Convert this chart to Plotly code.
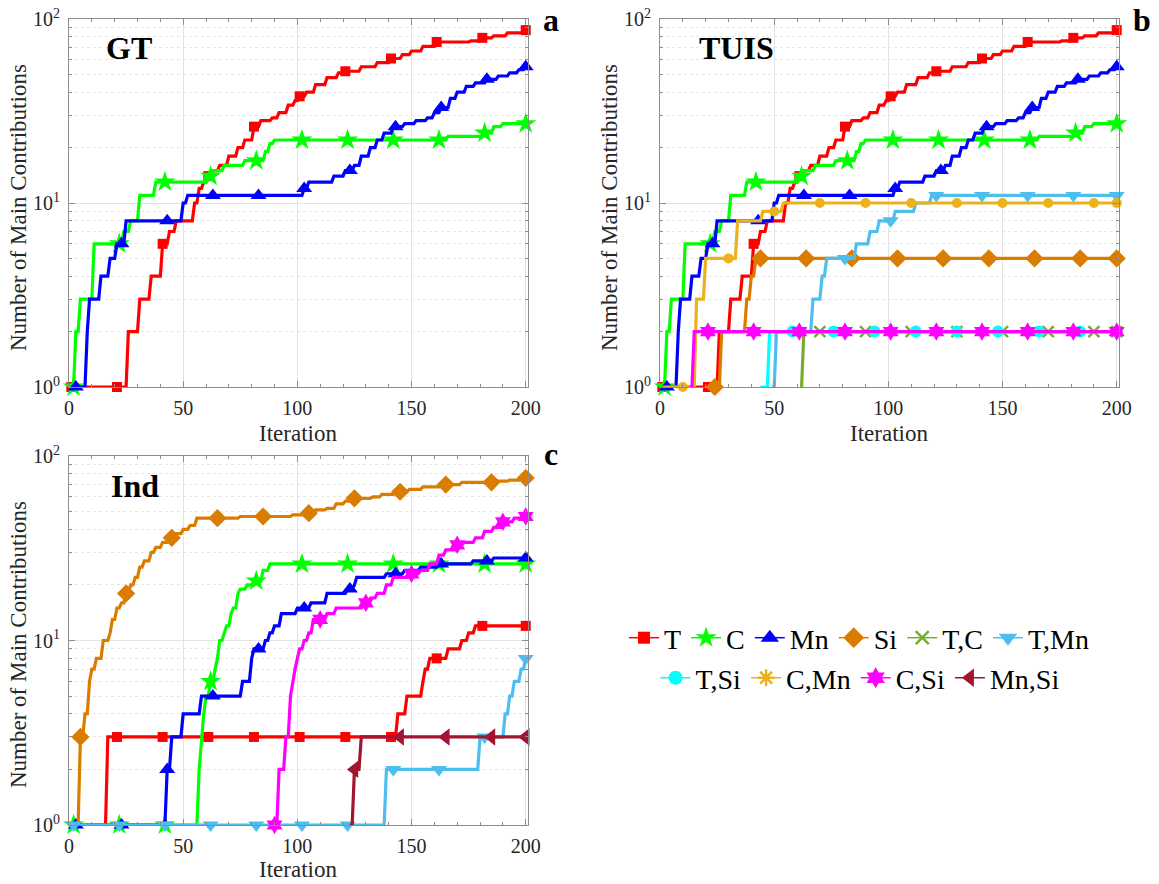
import plotly.graph_objects as go

# ---------------- data (iteration at which value changes, new value) ----------------
# Panels a & b share T, C, Mn
T_x = [1, 26, 31, 36, 41, 44, 47, 55, 57, 59, 61, 63, 66, 70, 74, 77, 81, 84, 89, 92,
       96, 99, 101, 104, 108, 113, 118, 121, 128, 135, 141, 146, 150, 155, 161, 176, 181, 186, 192, 200]
T_y = [1, 2, 3, 4, 6, 7, 8, 10, 12, 13, 14, 15, 16, 18, 20, 22, 26, 28, 29, 31,
       34, 36, 38, 40, 44, 48, 51, 52, 55, 58, 61, 64, 67, 71, 75, 76, 79, 81, 84, 87]
C_x = [1, 3, 5, 11, 24, 27, 31, 38, 60, 63, 68, 77, 86, 88, 90, 166, 182, 186, 190]
C_y = [1, 2, 3, 6, 7, 8, 11, 13, 14, 15, 16, 17, 19, 21, 22, 23, 24, 26, 27]
Mn_x = [1, 8, 9, 14, 18, 21, 25, 50, 52, 103, 105, 116, 121, 125, 128, 132, 135, 138, 142, 147,
        152, 157, 160, 163, 167, 170, 174, 178, 183, 188, 193, 197, 200]
Mn_y = [1, 2, 3, 4, 5, 6, 8, 10, 11, 12, 13, 14, 15, 16, 18, 20, 22, 24, 26, 27,
        28, 29, 31, 33, 37, 40, 43, 45, 47, 49, 51, 53, 55]

# Panel b extras
Si_b_x = [20, 27, 38, 40, 42]
Si_b_y = [1, 2, 3, 4, 5]
TC_b_x = [62, 63]
TC_b_y = [1, 2]
TMn_b_x = [49, 51, 67, 71, 73, 86, 92, 96, 103, 112, 119]
TMn_b_y = [1, 2, 3, 4, 5, 6, 7, 8, 9, 10, 11]
TSi_b_x = [44, 48]
TSi_b_y = [1, 2]
CMn_b_x = [1, 16, 20, 34, 45, 54]
CMn_b_y = [1, 3, 5, 8, 9, 10]
CSi_b_x = [13, 15]
CSi_b_y = [1, 2]

# Panel c
T_c_x = [15, 17, 144, 148, 155, 156, 158, 166, 172, 175, 178]
T_c_y = [1, 3, 4, 5, 6, 7, 8, 9, 10, 11, 12]
C_c_x = [1, 57, 58, 59, 60, 62, 64, 65, 66, 68, 69, 71, 72, 74, 75, 78, 81, 85, 88]
C_c_y = [1, 2, 3, 4, 5, 6, 7, 8, 10, 11, 12, 14, 15, 18, 19, 20, 21, 24, 26]
Mn_c_x = [1, 43, 45, 50, 58, 76, 80, 81, 86, 88, 90, 93, 100, 106, 113, 122, 125, 126, 139, 147,
          154, 162, 177, 186]
Mn_c_y = [1, 2, 3, 4, 5, 6, 8, 9, 10, 11, 12, 14, 15, 16, 18, 19, 20, 22, 23, 24,
          25, 26, 27, 28]
Si_c_x = [3, 5, 7, 9, 10, 12, 15, 18, 19, 21, 23, 25, 27, 29, 31, 33, 36, 38, 41, 44,
          47, 50, 53, 56, 75, 98, 104, 108, 113, 117, 121, 124, 133, 137, 143, 149, 155, 163, 172, 188,
          193, 198]
Si_c_y = [1, 3, 4, 6, 7, 8, 10, 11, 13, 15, 16, 18, 20, 22, 25, 27, 30, 32, 34, 36,
          38, 40, 42, 46, 47, 48, 49, 51, 52, 55, 57, 59, 60, 62, 64, 66, 68, 70, 72, 73,
          74, 76]
TMn_c_x = [1, 139, 180, 191, 193, 195, 198, 200]
TMn_c_y = [1, 2, 3, 4, 5, 6, 7, 8]
CSi_c_x = [90, 92, 95, 97, 98, 99, 100, 101, 103, 105, 107, 113, 117, 129, 132, 135, 139, 142, 150, 154,
           158, 162, 165, 170, 173, 178, 182, 186, 190, 195, 200]
CSi_c_y = [1, 2, 3, 5, 6, 7, 8, 9, 10, 11, 13, 14, 15, 16, 17, 18, 20, 22, 23, 24,
           26, 29, 31, 33, 34, 36, 39, 41, 44, 46, 47]
MnSi_c_x = [123, 125, 128]
MnSi_c_y = [1, 2, 3]

x_ticks = [0, 50, 100, 150, 200]
y_ticks = [1, 10, 100]
y_ticktext = ["10<sup>0</sup>", "10<sup>1</sup>", "10<sup>2</sup>"]
legend_names = ["T", "C", "Mn", "Si", "T,C", "T,Mn", "T,Si", "C,Mn", "C,Si", "Mn,Si"]

# ---------------- styles ----------------
COL = {"T": "#FF0000", "C": "#00FF00", "Mn": "#0000FF", "Si": "#DA7C00", "T,C": "#77AC30",
       "T,Mn": "#4DBEEE", "T,Si": "#00FFFF", "C,Mn": "#EDB120", "C,Si": "#FF00FF", "Mn,Si": "#A2142F"}
SYM = {"T": ("square", 10), "C": ("star", 16), "Mn": ("triangle-up", 14), "Si": ("diamond", 14),
       "T,C": ("x-thin", 11), "T,Mn": ("triangle-down", 14), "T,Si": ("circle", 12),
       "C,Mn": ("asterisk-open", 12), "C,Si": ("hexagram", 14), "Mn,Si": ("triangle-left", 15)}
FONT = "Liberation Serif, Tinos, Times New Roman, serif"
TXT = "#262626"
AX = "#8c8c8c"
END = 200


def expand(bx, by):
    xs, ys = [], []
    for i, (x, y) in enumerate(zip(bx, by)):
        if i > 0 and x - 1 > xs[-1]:
            xs.append(x - 1)
            ys.append(ys[-1])
        xs.append(x)
        ys.append(y)
    if xs[-1] < END:
        xs.append(END)
        ys.append(ys[-1])
    return xs, ys


def value_at(bx, by, m):
    v = None
    for x, y in zip(bx, by):
        if x <= m:
            v = y
    return v


def marker_iters(start, step=20):
    its = list(range(start, END, step))
    if its[-1] != END:
        its.append(END)
    return its


fig = go.Figure()


def add_series(name, bx, by, xa, ya, start, step=20, symbol=None, size=None):
    col = COL[name]
    xs, ys = expand(bx, by)
    fig.add_trace(go.Scatter(x=xs, y=ys, mode="lines", line=dict(color=col, width=3.2),
                             xaxis=xa, yaxis=ya, showlegend=False, cliponaxis=False,
                             hoverinfo="skip"))
    mx, my = [], []
    for m in marker_iters(start, step):
        v = value_at(bx, by, m)
        if v is not None:
            mx.append(m)
            my.append(v)
    sym, sz = SYM[name]
    sym = symbol or sym
    sz = size or sz
    if sym in ("x-thin", "asterisk-open"):
        mk = dict(symbol=sym, size=sz, color=col, line=dict(color=col, width=2.5))
    else:
        mk = dict(symbol=sym, size=sz, color=col, line=dict(width=0))
    fig.add_trace(go.Scatter(x=mx, y=my, mode="markers", marker=mk, xaxis=xa, yaxis=ya,
                             showlegend=False, cliponaxis=False, hoverinfo="skip"))


# panel a
add_series("T", T_x, T_y, "x", "y", 1)
add_series("C", C_x, C_y, "x", "y", 2)
add_series("Mn", Mn_x, Mn_y, "x", "y", 3)
# panel b
add_series("T", T_x, T_y, "x2", "y2", 1)
add_series("C", C_x, C_y, "x2", "y2", 2)
add_series("Mn", Mn_x, Mn_y, "x2", "y2", 3)
add_series("Si", Si_b_x, Si_b_y, "x2", "y2", 4)
add_series("T,C", TC_b_x, TC_b_y, "x2", "y2", 10)
add_series("T,Mn", TMn_b_x, TMn_b_y, "x2", "y2", 1)
add_series("T,Si", TSi_b_x, TSi_b_y, "x2", "y2", 4, step=18)
add_series("C,Mn", CMn_b_x, CMn_b_y, "x2", "y2", 10, symbol="circle", size=10)
add_series("C,Si", CSi_b_x, CSi_b_y, "x2", "y2", 1)
# panel c
add_series("T", T_c_x, T_c_y, "x3", "y3", 1)
add_series("C", C_c_x, C_c_y, "x3", "y3", 2)
add_series("Mn", Mn_c_x, Mn_c_y, "x3", "y3", 3)
add_series("Si", Si_c_x, Si_c_y, "x3", "y3", 5)
add_series("T,Mn", TMn_c_x, TMn_c_y, "x3", "y3", 2)
add_series("C,Si", CSi_c_x, CSi_c_y, "x3", "y3", 10)
add_series("Mn,Si", MnSi_c_x, MnSi_c_y, "x3", "y3", 5)

# legend entries
for i, name in enumerate(legend_names):
    col = COL[name]
    sym, sz = SYM[name]
    if sym in ("x-thin", "asterisk-open"):
        mk = dict(symbol=sym, size=sz + 2, color=col, line=dict(color=col, width=2.5))
    else:
        mk = dict(symbol=sym, size=sz + 2, color=col, line=dict(width=0))
    fig.add_trace(go.Scatter(x=[None], y=[None], mode="lines+markers", name=name,
                             line=dict(color=col, width=1.5), marker=mk,
                             xaxis="x", yaxis="y", legend="legend" if i < 6 else "legend2"))


def px(v):
    return v / 1159


def py(v):
    return 1 - v / 884


tickfont = dict(family=FONT, size=20, color=TXT)


def xaxis(dom, anchor):
    return dict(domain=dom, anchor=anchor, range=[0, 201], tickmode="array", tickvals=x_ticks,
                ticks="inside", ticklen=6, tickcolor=AX, showline=True, linecolor=AX, linewidth=1,
                mirror="ticks", showgrid=True, gridcolor="#e3e3e3", gridwidth=1, zeroline=False,
                tickfont=tickfont, ticklabelstandoff=3, automargin=False,
                minor=dict(tickmode="array", tickvals=[v for v in range(10, 200, 10) if v % 50],
                           ticks="inside", ticklen=3, tickcolor=AX, showgrid=False))


def yaxis(dom, anchor):
    return dict(domain=dom, anchor=anchor, type="log", range=[0, 2], tickmode="array",
                tickvals=y_ticks, ticktext=y_ticktext, ticks="inside", ticklen=6, tickcolor=AX,
                showline=True, linecolor=AX, linewidth=1, mirror="ticks", showgrid=True,
                gridcolor="#e3e3e3", gridwidth=1, zeroline=False, tickfont=tickfont,
                ticklabelstandoff=4, automargin=False,
                minor=dict(tickmode="array",
                           tickvals=[2, 3, 4, 5, 6, 7, 8, 9, 20, 30, 40, 50, 60, 70, 80, 90],
                           ticks="inside", ticklen=3, tickcolor=AX, showgrid=True,
                           gridcolor="#e6e6e6", griddash="dot", gridwidth=1))


xa_dom = [px(69), px(528)]
xb_dom = [px(660), px(1119)]
top_dom = [py(387), py(19)]
bot_dom = [py(825), py(456)]

ann = []


def text(x, y, s, size, bold=False, angle=0, anchor="center", yanchor="middle"):
    ann.append(dict(x=px(x), y=py(y), xref="paper", yref="paper", text=f"<b>{s}</b>" if bold else s,
                    showarrow=False, textangle=angle, xanchor=anchor, yanchor=yanchor,
                    font=dict(family=FONT, size=size, color="#000000" if bold else TXT)))


YT = "Number of Main Contributions"
text(18, 208, YT, 23, angle=-90)
text(609, 208, YT, 23, angle=-90)
text(18, 645, YT, 23, angle=-90)
text(298, 433, "Iteration", 23)
text(889, 433, "Iteration", 23)
text(298, 869, "Iteration", 23)
text(104, 48, "GT", 32, bold=True, anchor="left")
text(697, 48, "TUIS", 32, bold=True, anchor="left")
text(109, 486, "Ind", 32, bold=True, anchor="left")
text(551, 0, "a", 32, bold=True, yanchor="top")
text(1142, 0, "b", 32, bold=True, yanchor="top")
text(551, 434, "c", 32, bold=True, yanchor="top")

legfont = dict(family=FONT, size=28, color="#000000")
fig.update_layout(
    width=1159, height=884, margin=dict(l=0, r=0, t=0, b=0, autoexpand=False),
    paper_bgcolor="white", plot_bgcolor="white",
    font=dict(family=FONT),
    xaxis=xaxis(xa_dom, "y"), yaxis=yaxis(top_dom, "x"),
    xaxis2=xaxis(xb_dom, "y2"), yaxis2=yaxis(top_dom, "x2"),
    xaxis3=xaxis(xa_dom, "y3"), yaxis3=yaxis(bot_dom, "x3"),
    legend=dict(orientation="h", x=px(859), y=py(638), xanchor="center", yanchor="middle",
                font=legfont, bgcolor="rgba(0,0,0,0)", tracegroupgap=0),
    legend2=dict(orientation="h", x=px(860), y=py(678), xanchor="center", yanchor="middle",
                 font=legfont, bgcolor="rgba(0,0,0,0)", tracegroupgap=0),
    annotations=ann,
)

fig.write_html("out.html")
